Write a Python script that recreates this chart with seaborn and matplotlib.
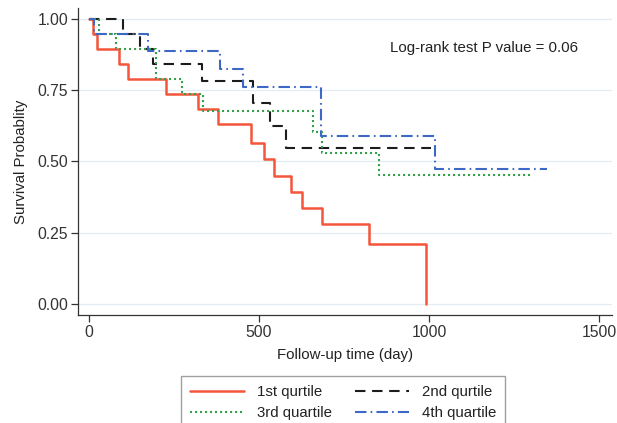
import matplotlib
matplotlib.use("Agg")
import matplotlib.pyplot as plt
import seaborn as sns
import pandas as pd

# ---- data ----
groups = ["1st qurtile", "2nd qurtile", "3rd quartile", "4th quartile"]

q1_time = [0, 12, 25, 89, 116, 228, 322, 380, 478, 515, 544, 593, 628, 686, 824, 990]
q1_surv = [1.0, 0.947, 0.895, 0.842, 0.789, 0.737, 0.684, 0.632, 0.566, 0.508,
           0.449, 0.394, 0.338, 0.281, 0.211, 0.0]

q2_time = [0, 101, 150, 189, 334, 483, 532, 581, 1006]
q2_surv = [1.0, 0.947, 0.895, 0.842, 0.781, 0.706, 0.625, 0.547, 0.547]

q3_time = [0, 31, 79, 197, 275, 336, 660, 684, 852, 1302]
q3_surv = [1.0, 0.947, 0.895, 0.789, 0.737, 0.676, 0.605, 0.531, 0.453, 0.453]

q4_time = [0, 15, 173, 385, 454, 682, 1018, 1346]
q4_surv = [1.0, 0.947, 0.889, 0.826, 0.762, 0.591, 0.472, 0.472]

x_ticks = [0, 500, 1000, 1500]
y_ticks = [0.0, 0.25, 0.5, 0.75, 1.0]
annotation = "Log-rank test P value = 0.06"

frames = []
for g, t, s in zip(groups, [q1_time, q2_time, q3_time, q4_time],
                   [q1_surv, q2_surv, q3_surv, q4_surv]):
    frames.append(pd.DataFrame({"time": t, "surv": s, "group": g}))
df = pd.concat(frames, ignore_index=True)

# ---- style ----
sns.set_theme(style="white")
plt.rcParams["font.family"] = ["Liberation Sans", "DejaVu Sans"]

colors = {"1st qurtile": "#f4553b", "2nd qurtile": "#1c1c1c",
          "3rd quartile": "#33a04a", "4th quartile": "#3e68c6"}
dashes = {"1st qurtile": "", "2nd qurtile": (5, 3.2),
          "3rd quartile": (1, 1.4), "4th quartile": (5.5, 2, 0.8, 2)}

fig = plt.figure(figsize=(6.17, 4.23), dpi=100)
ax = fig.add_axes([78 / 617, 1 - 315 / 423, (612 - 78) / 617, (315 - 8) / 423])

sns.lineplot(data=df, x="time", y="surv", hue="group", style="group",
             palette=colors, dashes=dashes, estimator=None, sort=False,
             drawstyle="steps-post", linewidth=1.5, legend=False, ax=ax)
ax.lines[0].set_linewidth(1.8)

ax.set_xlim(-32, 1538)
ax.set_ylim(-0.0386, 1.0386)
ax.set_xticks(x_ticks)
ax.set_yticks(y_ticks)
ax.set_yticklabels([f"{v:.2f}" for v in y_ticks])
ax.yaxis.grid(True, color="#e2ecf1", linewidth=0.9)
ax.xaxis.grid(False)
ax.set_axisbelow(True)
for side in ["top", "right"]:
    ax.spines[side].set_visible(False)
for side in ["left", "bottom"]:
    ax.spines[side].set_color("#333333")
    ax.spines[side].set_linewidth(0.9)
ax.tick_params(axis="both", which="major", bottom=True, left=True,
               direction="out", length=5, width=0.9,
               color="#333333", labelsize=11.3, labelcolor="#333333", pad=2)

ax.set_xlabel("Follow-up time (day)", fontsize=10.8, color="#222222", labelpad=6)
ax.set_ylabel("Survival Probablity", fontsize=10.8, color="#222222", labelpad=7)

ax.text(885, 0.90, annotation, fontsize=10.8, color="#222222", va="center", ha="left")

h = ax.lines[:4]
handles = [h[0], h[2], h[1], h[3]]
labels = [groups[0], groups[2], groups[1], groups[3]]
leg = fig.legend(handles, labels, loc="upper left", ncol=2,
                 bbox_to_anchor=(181 / 617, 1 - 376 / 423),
                 fontsize=10.8, frameon=True, fancybox=False,
                 borderaxespad=0.0,
                 handlelength=3.6, handletextpad=0.85, columnspacing=1.55,
                 labelspacing=0.45, borderpad=0.6)
leg.get_frame().set_edgecolor("#888888")
leg.get_frame().set_linewidth(1.0)
for t in leg.get_texts():
    t.set_color("#222222")

fig.savefig("out.png", dpi=100)
